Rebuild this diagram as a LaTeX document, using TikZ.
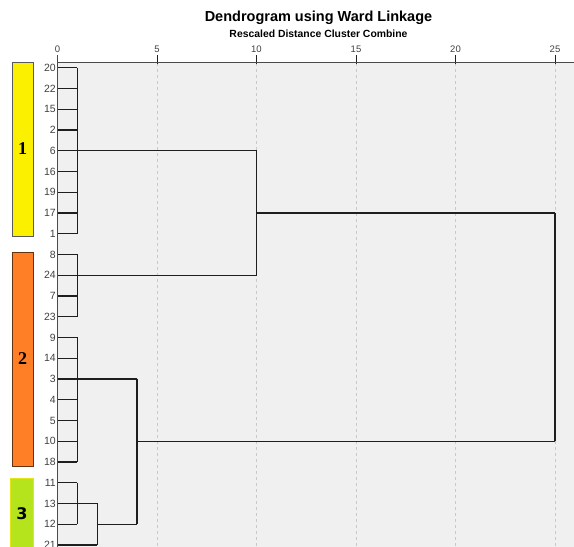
\documentclass[tikz,border=0pt]{standalone}
\usepackage{fontspec}
\setmainfont{Liberation Sans}
\newfontfamily\serifnum{Liberation Serif}
\newfontfamily\verdanalike{DejaVu Sans}
\usetikzlibrary{calc}
\definecolor{panel}{HTML}{F0F0F0}
\definecolor{grid}{HTML}{C8C8C8}
\definecolor{ink}{HTML}{1E1E1E}
\definecolor{lab}{HTML}{404040}
\definecolor{cyel}{HTML}{FAF000}
\definecolor{corg}{HTML}{FF7F27}
\definecolor{cgrn}{HTML}{B5E41D}
\begin{document}
\begin{tikzpicture}[x=1pt,y=-1pt,
  link/.style={draw=ink,line width=1.3pt},
  leaflab/.style={anchor=east,font=\fontsize{10.5}{11}\selectfont,text=lab,inner sep=0pt},
  ticklab/.style={anchor=south,font=\fontsize{9.5}{10}\selectfont,text=lab,inner sep=0pt},
  gridline/.style={draw=grid,dash pattern=on 3pt off 3pt,line width=0.7pt},
  bar/.style={line width=0.8pt}]
\useasboundingbox (0,0) rectangle (574,547);
\clip (0,0) rectangle (574,547);
\fill[white] (0,0) rectangle (574,547);
\fill[panel] (58,62) rectangle (574,547);
% title
\node[font=\bfseries\fontsize{14.5}{16}\selectfont] (title) at (318.5,18) {Dendrogram using Ward Linkage};
\node[font=\bfseries\fontsize{10.4}{11}\selectfont] (subtitle) at (318.5,34) {Rescaled Distance Cluster Combine};
% grid and ticks
\foreach \d in {5,10,15,20,25}{
  \draw[gridline] ({57.5+19.9*\d},63) -- ({57.5+19.9*\d},547);
}
\foreach \d in {0,5,10,15,20,25}{
  \draw[draw=ink,line width=1pt] ({57.5+19.9*\d},55) -- ({57.5+19.9*\d},64);
  \node[ticklab] (t\d) at ({57.5+19.9*\d},53) {\d};
}
\draw[draw=ink!80,line width=1pt] (57.5,62) -- (574,62);
\draw[draw=ink!80,line width=1pt] (57.5,55) -- (57.5,547);
% leaves
\foreach \lbl [count=\i from 0] in {20,22,15,2,6,16,19,17,1,8,24,7,23,9,14,3,4,5,10,18,11,13,12,21}{
  \node[leaflab] (l\i) at (56,{67.7+20.75*\i}) {\lbl};
  \coordinate (p\i) at (57.5,{67.7+20.75*\i});
}
\def\xa{77.4}\def\xb{97.3}\def\xc{137.1}\def\xd{256.5}\def\xe{555}
% group A: leaves 0-8
\foreach \i in {0,...,8}{\draw[link] (p\i) -- (\xa,0 |- p\i);}
\draw[link] (\xa,0 |- p0) -- (\xa,0 |- p8);
\coordinate (jA) at (\xd,0 |- p4);
\draw[link] (\xa,0 |- p4) -- (jA);
% group B: leaves 9-12
\foreach \i in {9,...,12}{\draw[link] (p\i) -- (\xa,0 |- p\i);}
\draw[link] (\xa,0 |- p9) -- (\xa,0 |- p12);
\coordinate (jB) at (\xd,0 |- p10);
\draw[link] (\xa,0 |- p10) -- (jB);
\draw[link] (jA) -- (jB);
\coordinate (jAB) at ($(jA)!0.5!(jB)$);
% group C: leaves 13-19
\foreach \i in {13,...,19}{\draw[link] (p\i) -- (\xa,0 |- p\i);}
\draw[link] (\xa,0 |- p13) -- (\xa,0 |- p19);
\coordinate (jC) at (\xc,0 |- p15);
\draw[link] (\xa,0 |- p15) -- (jC);
% group D: leaves 20-22
\foreach \i in {20,...,22}{\draw[link] (p\i) -- (\xa,0 |- p\i);}
\draw[link] (\xa,0 |- p20) -- (\xa,0 |- p22);
\coordinate (jD) at (\xb,0 |- p21);
\draw[link] (\xa,0 |- p21) -- (jD);
\coordinate (jL) at (\xb,0 |- p23);
\draw[link] (p23) -- (jL);
\draw[link] (jD) -- (jL);
\coordinate (jE) at (\xc,0 |- p22);
\draw[link] (\xb,0 |- p22) -- (jE);
\draw[link] (jC) -- (jE);
\coordinate (jF) at (\xe,0 |- p18);
\draw[link] (\xc,0 |- p18) -- (jF);
\coordinate (jG) at (\xe,0 |- jAB);
\draw[link] (\xd,0 |- jAB) -- (jG);
\draw[link] (jG) -- (jF);
% cluster bars
\draw[bar,fill=cyel,draw=black!65] (12,62) rectangle (33,236);
\draw[bar,fill=corg,draw=black!60!corg] (12,252) rectangle (33,466);
\draw[bar,fill=cgrn,draw=yellow!60!cgrn] (10.5,478) rectangle (33,560);
\node[font=\serifnum\bfseries\fontsize{18}{18}\selectfont] (c1) at (22.5,149) {1};
\node[font=\serifnum\bfseries\fontsize{18}{18}\selectfont] (c2) at (22.5,359) {2};
\node[font=\verdanalike\bfseries\fontsize{16}{16}\selectfont] (c3) at (22,514) {3};
\end{tikzpicture}
\end{document}
